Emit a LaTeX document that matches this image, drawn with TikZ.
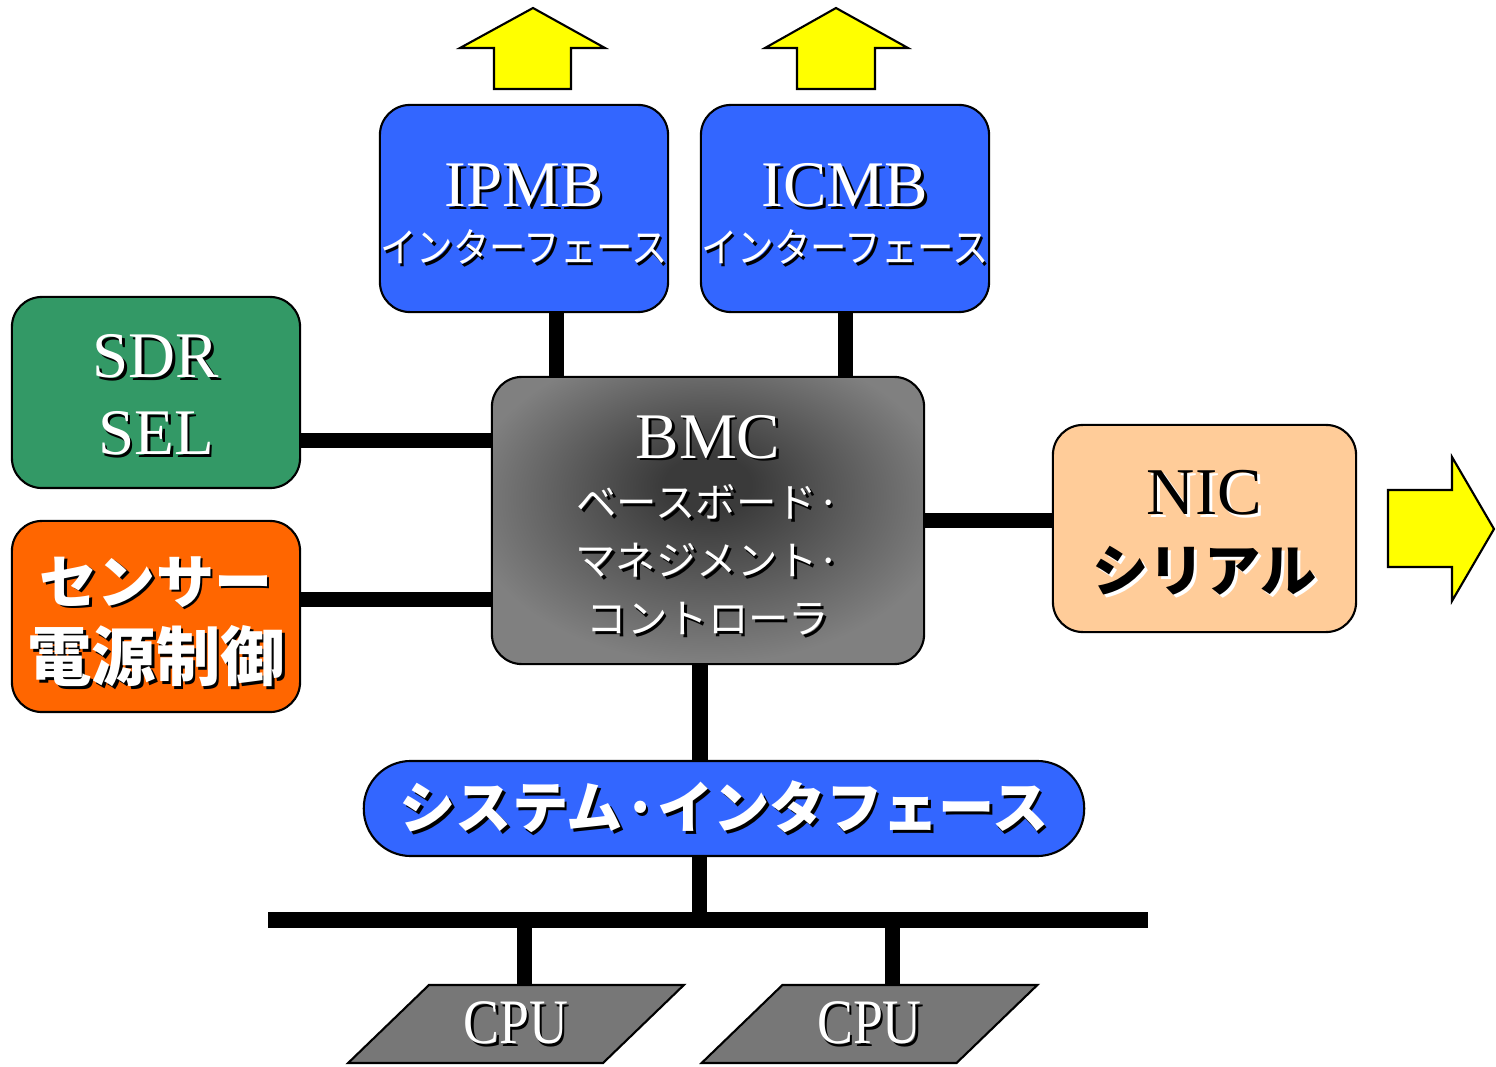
\documentclass[tikz,border=0pt]{standalone}
\usepackage{fontspec}
\usepackage{graphicx}
\setmainfont{Liberation Serif}
\newfontfamily\jp{Noto Sans CJK JP}
\usetikzlibrary{shapes.geometric}

\definecolor{ifblue}{HTML}{3366FF}
\definecolor{sdrgreen}{HTML}{339966}
\definecolor{sensorange}{HTML}{FF6600}
\definecolor{nicpeach}{HTML}{FFCC99}
\definecolor{cpugray}{HTML}{777777}
\definecolor{bmcgray}{HTML}{808080}
\definecolor{bmcdark}{HTML}{3A3A3A}
\definecolor{arrowyellow}{HTML}{FFFF00}

\pgfdeclareradialshading{bmcglow}{\pgfpoint{0bp}{7bp}}{color(0bp)=(bmcdark); color(5bp)=(bmcdark); color(28bp)=(bmcgray); color(50bp)=(bmcgray)}

% text with a drop shadow
\newcommand{\shd}[2][black]{\makebox[0pt][l]{\hspace{0.8pt}\raisebox{-0.8pt}{\textcolor{#1}{#2}}}#2}
% pushes the first line of a box down a little
\newcommand{\lift}[1]{\rule{0pt}{#1}}

\begin{document}
\begin{tikzpicture}[x=0.01cm,y=-0.01cm,
	box/.style={draw=black, line width=0.6pt, rounded corners=0.3cm, align=center, inner sep=0pt, text=white},
	wire/.style={line width=0.15cm},
	yarrow/.style={draw=black, line width=0.6pt, fill=arrowyellow},
	cpubox/.style={trapezium, trapezium left angle=43, trapezium right angle=137, trapezium stretches=true,
		draw=black, line width=0.6pt, fill=cpugray, minimum width=3.36cm, minimum height=0.78cm,
		inner sep=0pt, text=white, font=\fontsize{18}{18}\selectfont}]

		\useasboundingbox (0,0) rectangle (1496,1067);

		\node[box, fill=ifblue, minimum width=2.88cm, minimum height=2.07cm, font=\fontsize{18.5}{16}\selectfont] (ipmb) at ( 524, 208.5) {\lift{16.2pt}\shd{IPMB}\\{\jp\fontsize{11.5}{16}\selectfont\scalebox{0.9}[1]{\shd{インターフェース}}}};
		\node[box, fill=ifblue, minimum width=2.88cm, minimum height=2.07cm, font=\fontsize{18.5}{16}\selectfont] (icmb) at ( 845, 208.5) {\lift{16.2pt}\shd{ICMB}\\{\jp\fontsize{11.5}{16}\selectfont\scalebox{0.9}[1]{\shd{インターフェース}}}};

		\node[box, fill=sdrgreen, minimum width=2.88cm, minimum height=1.91cm, font=\fontsize{18.5}{22}\selectfont] (sdr) at ( 156, 392.5) {\lift{14.5pt}\shd{SDR}\\\shd{SEL}};
		\node[box, fill=sensorange, minimum width=2.88cm, minimum height=1.91cm, font=\jp\bfseries\fontsize{16.5}{22}\selectfont] (sens) at ( 156, 616.5) {\lift{17pt}\shd{センサー}\\{\fontsize{18.3}{22}\selectfont\shd{電源制御}}};

		\node[box, shade, shading=bmcglow, minimum width=4.32cm, minimum height=2.87cm, font=\fontsize{18.5}{16.4}\selectfont] (bmc) at ( 708, 520.5) {\lift{15.6pt}\shd{BMC}\\[0.6pt]{\jp\fontsize{11.5}{16.4}\selectfont\shd{ベースボード·}}\\{\jp\fontsize{11.5}{16.4}\selectfont\shd{マネジメント·}}\\{\jp\fontsize{11.5}{16.4}\selectfont\shd{コントローラ}}};

		\node[box, fill=nicpeach, text=black, minimum width=3.03cm, minimum height=2.07cm, font=\fontsize{19}{22}\selectfont] (nic) at (1204.5, 528.5) {\lift{15.9pt}\shd[white]{NIC}\\{\jp\bfseries\fontsize{16}{22}\selectfont\shd[white]{シリアル}}};

		\node[box, fill=ifblue, rounded corners=0.47cm, minimum width=7.20cm, minimum height=0.95cm, font=\jp\bfseries\fontsize{16}{16}\selectfont] (sysif) at ( 724, 808.5) {\shd{システム·インタフェース}};

		\node[cpubox] (cpu1) at ( 516, 1024) {\scalebox{0.85}[1]{\shd{CPU}}};
		\node[cpubox] (cpu2) at ( 869.5, 1024) {\scalebox{0.85}[1]{\shd{CPU}}};

		\coordinate (busL) at ( 268, 920);
		\coordinate (busR) at (1148, 920);

		\draw[wire] ([xshift=0.32cm]ipmb.south) -- ([xshift=0.32cm]ipmb.south |- bmc.north);
		\draw[wire] (icmb.south) -- (icmb.south |- bmc.north);
		\draw[wire] ([yshift=-0.475cm]sdr.east) -- ([yshift=-0.475cm]sdr.east -| bmc.west);
		\draw[wire] ([yshift=0.165cm]sens.east) -- ([yshift=0.165cm]sens.east -| bmc.west);
		\draw[wire] (bmc.east) -- (bmc.east -| nic.west);
		\draw[wire] ([xshift=-0.08cm]bmc.south) -- ([xshift=-0.08cm]bmc.south |- sysif.north);
		\draw[wire] ([xshift=-0.24cm]sysif.south) -- ([xshift=-0.24cm]sysif.south |- busL);
		\draw[wire] (busL) -- (busR);
		\draw[wire] ([xshift=0.08cm]cpu1.north) -- ([xshift=0.08cm]cpu1.north |- busL);
		\draw[wire] ([xshift=0.225cm]cpu2.north) -- ([xshift=0.225cm]cpu2.north |- busL);

		% outgoing arrows
		\coordinate (upA) at ( 494, 89);
		\coordinate (upB) at ( 797, 89);
		\coordinate (outR) at (1388, 490);
		\draw[yarrow] (upA) -- ++(0,-41) -- ++(-34,0) -- ++(73,-40) -- ++(72,40) -- ++(-34,0) -- ++(0,41) -- cycle;
		\draw[yarrow] (upB) -- ++(0,-41) -- ++(-32,0) -- ++(71,-40) -- ++(72,40) -- ++(-33,0) -- ++(0,41) -- cycle;
		\draw[yarrow] (outR) -- ++(64,0) -- ++(0,-33) -- ++(42,72) -- ++(-42,72) -- ++(0,-34) -- ++(-64,0) -- cycle;

\end{tikzpicture}
\end{document}
